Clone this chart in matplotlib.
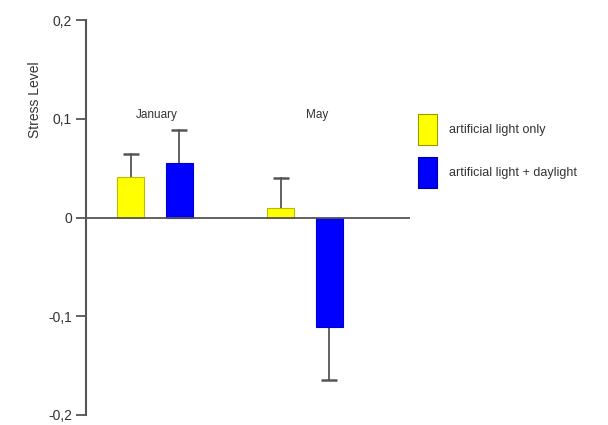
import numpy as np
import matplotlib.pyplot as plt
from matplotlib.patches import Patch

# Dados
meses = ['January', 'May']
so_artificial = [0.041, 0.010]
so_artificial_err = [0.023, 0.030]
artificial_dia = [0.055, -0.111]
artificial_dia_err = [0.034, 0.054]
rotulos_legenda = ['artificial light only', 'artificial light + daylight']
ticks_y = [-0.2, -0.1, 0, 0.1, 0.2]
rotulos_y = ['-0,2', '-0,1', '0', '0,1', '0,2']

plt.rcParams['font.family'] = ['Liberation Sans', 'DejaVu Sans']
cinza = '#555555'
texto = '#333333'

fig = plt.figure(figsize=(6.08, 4.25), dpi=100)
ax = fig.add_axes([86 / 608, 10 / 425, 324 / 608, 395 / 425])

x = np.arange(len(meses))
larg = 0.18
desloc = 0.163

def barras(pos, vals, errs, cor, borda):
    ax.bar(pos, vals, larg, color=cor, edgecolor=borda, linewidth=0.8, zorder=2)
    # erro só para o lado oposto ao zero, com uma única barrinha
    for p, v, e in zip(pos, vals, errs):
        fim = v + e if v >= 0 else v - e
        ax.plot([p, p], [v, fim], color=cinza, linewidth=1.3, zorder=1)
        ax.plot(p, fim, marker='_', markersize=11, markeredgewidth=1.8,
                color=cinza, zorder=1)

barras(x - desloc, so_artificial, so_artificial_err, '#ffff00', '#bbbb00')
barras(x + desloc, artificial_dia, artificial_dia_err, '#0000ff', '#0000cc')

ax.axhline(0, color=cinza, linewidth=1.3, zorder=3)

# rótulos dos meses (May um pouco à direita, como no original)
for xi, m, dx in zip(x, meses, [0.01, 0.08]):
    ax.text(xi + dx, 0.104, m, ha='center', va='center', fontsize=8.5, color=texto)

ax.set_xlim(-0.46, -0.46 + 324 / 150)
ax.set_ylim(-0.2, 0.2)
ax.set_yticks(ticks_y)
ax.set_yticklabels(rotulos_y, fontsize=10, color=texto)
ax.set_xticks([])
for s in ['top', 'right', 'bottom']:
    ax.spines[s].set_visible(False)
ax.spines['left'].set_color(cinza)
ax.spines['left'].set_linewidth(1.5)
ax.tick_params(axis='y', direction='out', length=7, width=1.3, color=cinza, pad=3)

fig.text(35 / 608, 1 - 100 / 425, 'Stress Level', rotation=90, ha='center',
         va='center', fontsize=10, color=texto)

handles = [Patch(facecolor='#ffff00', edgecolor='#999900', linewidth=0.8),
           Patch(facecolor='#0000ff', edgecolor='#000099', linewidth=0.8)]
fig.legend(handles, rotulos_legenda, loc='upper left',
           bbox_to_anchor=(418 / 608, 1 - 114 / 425), frameon=False,
           borderpad=0, borderaxespad=0, fontsize=9, handlelength=1.5,
           handleheight=3.4, labelspacing=1.0, handletextpad=1.0,
           labelcolor=texto)

fig.savefig('out.png', dpi=100)
